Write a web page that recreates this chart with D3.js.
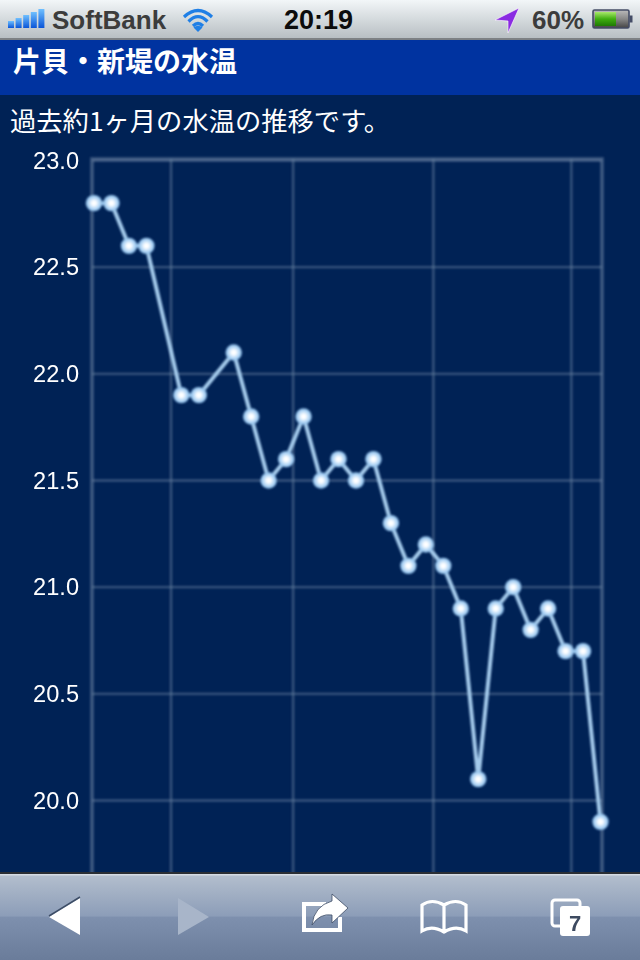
<!DOCTYPE html>
<html><head><meta charset="utf-8">
<script src="https://cdnjs.cloudflare.com/ajax/libs/d3/7.8.5/d3.min.js"></script>
<style>html,body{margin:0;padding:0;background:#002255;overflow:hidden}svg{display:block}</style>
</head><body><div id="c"></div>
<script>
const days=[0,1,2,3,5,6,8,9,10,11,12,13,14,15,16,17,18,19,20,21,22,23,24,25,26,27,28,29];
const temps=[22.8,22.8,22.6,22.6,21.9,21.9,22.1,21.8,21.5,21.6,21.8,21.5,21.6,21.5,21.6,21.3,21.1,21.2,21.1,20.9,20.1,20.9,21.0,20.8,20.9,20.7,20.7,19.9];
const yTicks=[23,22.5,22,21.5,21,20.5,20];
const xGrid=[4.41,11.4,19.43,27.33];
const signalBars=[7,10,13,16,19];
const title="片貝・新堤の水温", desc="過去約1ヶ月の水温の推移です。";
const JP='"Noto Sans CJK JP","Liberation Sans",sans-serif', LAT='"Liberation Sans",Arial,sans-serif';

const svg=d3.select("#c").append("svg").attr("width",640).attr("height",960);
const defs=svg.append("defs");
function grad(id,stops){const g=defs.append("linearGradient").attr("id",id).attr("x1",0).attr("x2",0).attr("y1",0).attr("y2",1);
 stops.forEach(s=>g.append("stop").attr("offset",s[0]).attr("stop-color",s[1]));}
grad("status",[[0,"#f2f6f8"],[1,"#b8bfc3"]]);
grad("tool",[[0,"#b4bfce"],[0.49,"#8c9db8"],[0.5,"#7e90ae"],[1,"#6a7c9a"]]);
grad("bat",[[0,"#a8e86a"],[0.5,"#3fae10"],[1,"#1f7a05"]]);
grad("batE",[[0,"#bbb"],[0.5,"#888"],[1,"#444"]]);
grad("sig",[[0,"#6fc0ff"],[1,"#0a55d8"]]);
const glow=defs.append("radialGradient").attr("id","pt");
[[0,"#ffffff"],[0.25,"#ffffff"],[0.5,"#cfe6fb"],[0.8,"#a2cdf2"],[1,"#86b8e6"]].forEach(s=>glow.append("stop").attr("offset",s[0]).attr("stop-color",s[1]));
defs.append("filter").attr("id","soft").attr("x","-5%").attr("y","-5%").attr("width","110%").attr("height","110%")
  .append("feGaussianBlur").attr("stdDeviation",0.8);
defs.append("clipPath").attr("id","plot").append("rect").attr("x",0).attr("y",150).attr("width",640).attr("height",722);

svg.append("rect").attr("width",640).attr("height",960).attr("fill","#002255");
// status bar
svg.append("rect").attr("width",640).attr("height",38).attr("fill","url(#status)");
svg.append("rect").attr("y",38).attr("width",640).attr("height",2).attr("fill","#7d8184");
svg.selectAll("rect.sig").data(signalBars).join("rect").attr("class","sig").attr("x",(d,i)=>8+i*7.6).attr("y",d=>28-d).attr("width",6).attr("height",d=>d).attr("fill","url(#sig)");
svg.append("text").attr("x",52).attr("y",29).attr("font-family",LAT).attr("font-weight",700).attr("font-size",26).attr("fill","#3c3c3c").text("SoftBank");
const wifi=svg.append("g").attr("fill","none").attr("stroke","#1f7fe6").attr("stroke-width",3.2);
wifi.append("path").attr("d","M184 17Q198 4 212 17");
wifi.append("path").attr("d","M188.5 21.5Q198 12 207.5 21.5");
wifi.append("path").attr("d","M193 26Q198 21 203 26");
svg.append("path").attr("d","M198 32L193.5 27.5Q198 24 202.5 27.5Z").attr("fill","#1f7fe6");
svg.append("text").attr("x",318.5).attr("y",29).attr("text-anchor","middle").attr("font-family",LAT).attr("font-weight",700).attr("font-size",27).attr("fill","#0c0c0c").text("20:19");
svg.append("path").attr("d","M519 8L495 20L508 21L508 33Z").attr("fill","#8a2be2").attr("stroke","#fff").attr("stroke-width",0.6);
svg.append("text").attr("x",532).attr("y",29).attr("font-family",LAT).attr("font-weight",700).attr("font-size",26).attr("fill","#3c3c3c").text("60%");
svg.append("rect").attr("x",593).attr("y",10).attr("width",36).attr("height",18).attr("rx",1.5).attr("fill","url(#batE)").attr("stroke","#444c66").attr("stroke-width",1.6);
svg.append("rect").attr("x",595).attr("y",12).attr("width",21).attr("height",14).attr("fill","url(#bat)");
svg.append("rect").attr("x",629.5).attr("y",15.5).attr("width",3).attr("height",7).attr("fill","#444c66");
// header
svg.append("rect").attr("y",40).attr("width",640).attr("height",55).attr("fill","#0033a0");
svg.append("text").attr("x",13).attr("y",72).attr("font-family",JP).attr("font-weight",700).attr("font-size",28).attr("fill","#fff").text(title);
svg.append("text").attr("x",10).attr("y",131).attr("font-family",JP).attr("font-size",26.3).attr("fill","#fff").text(desc);

// chart
const x=d3.scaleLinear().domain([0,29]).range([94,600.5]);
const y=d3.scaleLinear().domain([20,23]).range([800.5,160.5]);
const plot=svg.append("g").attr("clip-path","url(#plot)");
const gridG=plot.append("g").attr("filter","url(#soft)");
const gridC="#6f87a6";
gridG.selectAll("line.h").data(yTicks).join("line").attr("class","h").attr("x1",92).attr("x2",602).attr("y1",d=>y(d)).attr("y2",d=>y(d)).attr("stroke",gridC).attr("stroke-width",2.4).attr("opacity",.5);
gridG.selectAll("line.v").data(xGrid).join("line").attr("class","v").attr("x1",d=>x(d)).attr("x2",d=>x(d)).attr("y1",159).attr("y2",880).attr("stroke",gridC).attr("stroke-width",2.4).attr("opacity",.5);
gridG.append("path").attr("d",`M92 880V159H602V880`).attr("fill","none").attr("stroke",gridC).attr("stroke-width",3.6).attr("opacity",.55);
const pts=days.map((d,i)=>[d,temps[i]]);
const marks=plot.append("g").attr("filter","url(#soft)");
marks.append("path").datum(pts).attr("d",d3.line().x(d=>x(d[0])).y(d=>y(d[1]))).attr("fill","none").attr("stroke","#a4cbec").attr("stroke-width",4);
marks.selectAll("circle").data(pts).join("circle").attr("cx",d=>x(d[0])).attr("cy",d=>y(d[1])).attr("r",8.2).attr("fill","url(#pt)");
svg.selectAll("text.yt").data(yTicks).join("text").attr("class","yt").attr("x",79).attr("y",d=>y(d)+8).attr("text-anchor","end").attr("font-family",LAT).attr("font-size",23.6).attr("fill","#fff").text(d=>d.toFixed(1));

// toolbar
svg.append("rect").attr("y",872).attr("width",640).attr("height",2).attr("fill","#2a2e34");
svg.append("rect").attr("y",874).attr("width",640).attr("height",86).attr("fill","url(#tool)");
svg.append("rect").attr("y",874).attr("width",640).attr("height",1.5).attr("fill","#d5dbe3");
svg.append("path").attr("d","M80 898V935L49 917Z").attr("fill","#fff");
svg.append("path").attr("d","M80 897L49 916").attr("stroke","#3d4d66").attr("stroke-width",1.5);
svg.append("path").attr("d","M178 898V935L209 917Z").attr("fill","#a8b5c9");
// share
svg.append("path").attr("d","M326 904H304V930H340V917").attr("fill","none").attr("stroke","#fff").attr("stroke-width",4);
svg.append("path").attr("d","M332 894L348 908L332 923V915Q320 913 312 925Q314 906 332 901Z").attr("fill","#fff").attr("stroke","#3d4d66").attr("stroke-width",0.8);
// book
svg.append("path").attr("d","M444 905Q432 898 422 905V931Q432 925 444 932Q456 925 466 931V905Q456 898 444 905ZM444 905V932").attr("fill","none").attr("stroke","#fff").attr("stroke-width",3.2);
// tabs
svg.append("rect").attr("x",552).attr("y",900).attr("width",28).attr("height",26).attr("rx",3).attr("fill","none").attr("stroke","#fff").attr("stroke-width",3);
svg.append("rect").attr("x",560).attr("y",906).attr("width",30).attr("height",30).attr("rx",3).attr("fill","#fff");
svg.append("text").attr("x",575).attr("y",931).attr("text-anchor","middle").attr("font-family",LAT).attr("font-weight",700).attr("font-size",22).attr("fill","#3d4a60").text("7");
</script></body></html>
